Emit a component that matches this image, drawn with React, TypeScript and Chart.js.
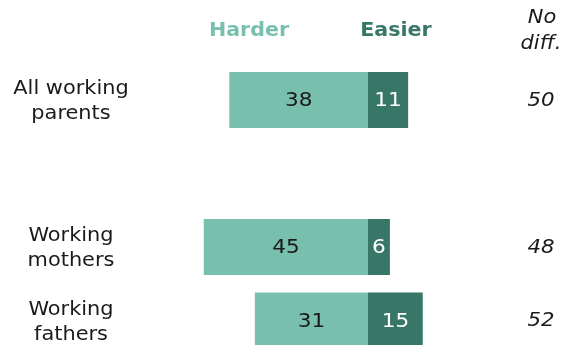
import React, { useEffect, useRef } from "react";
import { Chart, registerables } from "chart.js";

Chart.register(...registerables);

// Survey groups; the empty entry leaves a gap below the overall row.
const categories: string[][] = [["All working", "parents"], [], ["Working", "mothers"], ["Working", "fathers"]];
const harder: (number | null)[] = [38, null, 45, 31];
const easier: (number | null)[] = [11, null, 6, 15];
const noDiff: (number | null)[] = [50, null, 48, 52];

const HARDER_COLOR = "#78bfae";
const EASIER_COLOR = "#387767";
const TEXT_COLOR = "#1a1a1a";
const FONT = "'DejaVu Sans', Verdana, sans-serif";

// Draws centred text stretched horizontally to get a wider, Verdana-like face.
function stretchedText(ctx: CanvasRenderingContext2D, text: string, x: number, y: number, sx: number) {
  ctx.save();
  ctx.translate(x, y);
  ctx.scale(sx, 1);
  ctx.fillText(text, 0, 0);
  ctx.restore();
}

const labelsPlugin = {
  id: "divergingLabels",
  afterDatasetsDraw(chart: any) {
    const { ctx } = chart;
    const yScale = chart.scales.y;
    const xScale = chart.scales.x;
    ctx.save();
    ctx.textBaseline = "middle";
    ctx.textAlign = "center";

    // Column headers
    ctx.font = `bold 20px ${FONT}`;
    ctx.fillStyle = HARDER_COLOR;
    stretchedText(ctx, "Harder", 249, 31, 1.03);
    ctx.fillStyle = EASIER_COLOR;
    stretchedText(ctx, "Easier", 396, 31, 1.03);
    ctx.font = `italic 19px ${FONT}`;
    ctx.fillStyle = TEXT_COLOR;
    stretchedText(ctx, "No", 542, 18, 1.1);
    stretchedText(ctx, "diff.", 541, 44, 1.1);

    categories.forEach((lines, i) => {
      const yc = yScale.getPixelForValue(i);
      // Category names
      ctx.font = `19px ${FONT}`;
      ctx.fillStyle = TEXT_COLOR;
      lines.forEach((line, j) => {
        stretchedText(ctx, line, 71, yc + 2 + (j - (lines.length - 1) / 2) * 25, 1.1);
      });
      // Segment values
      const h = harder[i];
      const e = easier[i];
      const zero = xScale.getPixelForValue(0);
      ctx.font = `20px ${FONT}`;
      if (h != null) {
        ctx.fillStyle = TEXT_COLOR;
        stretchedText(ctx, String(h), (xScale.getPixelForValue(-h) + zero) / 2, yc + 1, 1.08);
      }
      if (e != null) {
        ctx.fillStyle = "#ffffff";
        stretchedText(ctx, String(e), (xScale.getPixelForValue(e) + zero) / 2, yc + 1, 1.08);
      }
      const n = noDiff[i];
      if (n != null) {
        ctx.font = `italic 19px ${FONT}`;
        ctx.fillStyle = TEXT_COLOR;
        stretchedText(ctx, String(n), 541, yc + 1, 1.12);
      }
    });
    ctx.restore();
  },
};

export default function App() {
  const canvasRef = useRef<HTMLCanvasElement>(null);

  useEffect(() => {
    const canvas = canvasRef.current;
    if (!canvas) return;
    const chart = new Chart(canvas, {
      type: "bar",
      data: {
        labels: categories.map((c) => c.join(" ")),
        datasets: [
          {
            label: "Harder",
            data: harder.map((v) => (v == null ? null : -v)),
            backgroundColor: HARDER_COLOR,
            borderWidth: 0,
            categoryPercentage: 1,
            barPercentage: 0.76,
          },
          {
            label: "Easier",
            data: easier,
            backgroundColor: EASIER_COLOR,
            borderWidth: 0,
            categoryPercentage: 1,
            barPercentage: 0.76,
          },
        ],
      },
      options: {
        indexAxis: "y",
        responsive: false,
        animation: false,
        layout: { padding: { left: 185.5, right: 14.5, top: 63.25, bottom: 12.75 } },
        plugins: { legend: { display: false }, tooltip: { enabled: false } },
        scales: {
          x: { display: false, stacked: true, min: -50, max: 50 },
          y: { display: false, stacked: true },
        },
      },
      plugins: [labelsPlugin],
    });
    return () => chart.destroy();
  }, []);

  return (
    <div style={{ position: "fixed", left: 0, top: 0, width: 565, height: 370, background: "#fff" }}>
      <canvas ref={canvasRef} width={565} height={370} style={{ width: 565, height: 370 }} />
    </div>
  );
}
